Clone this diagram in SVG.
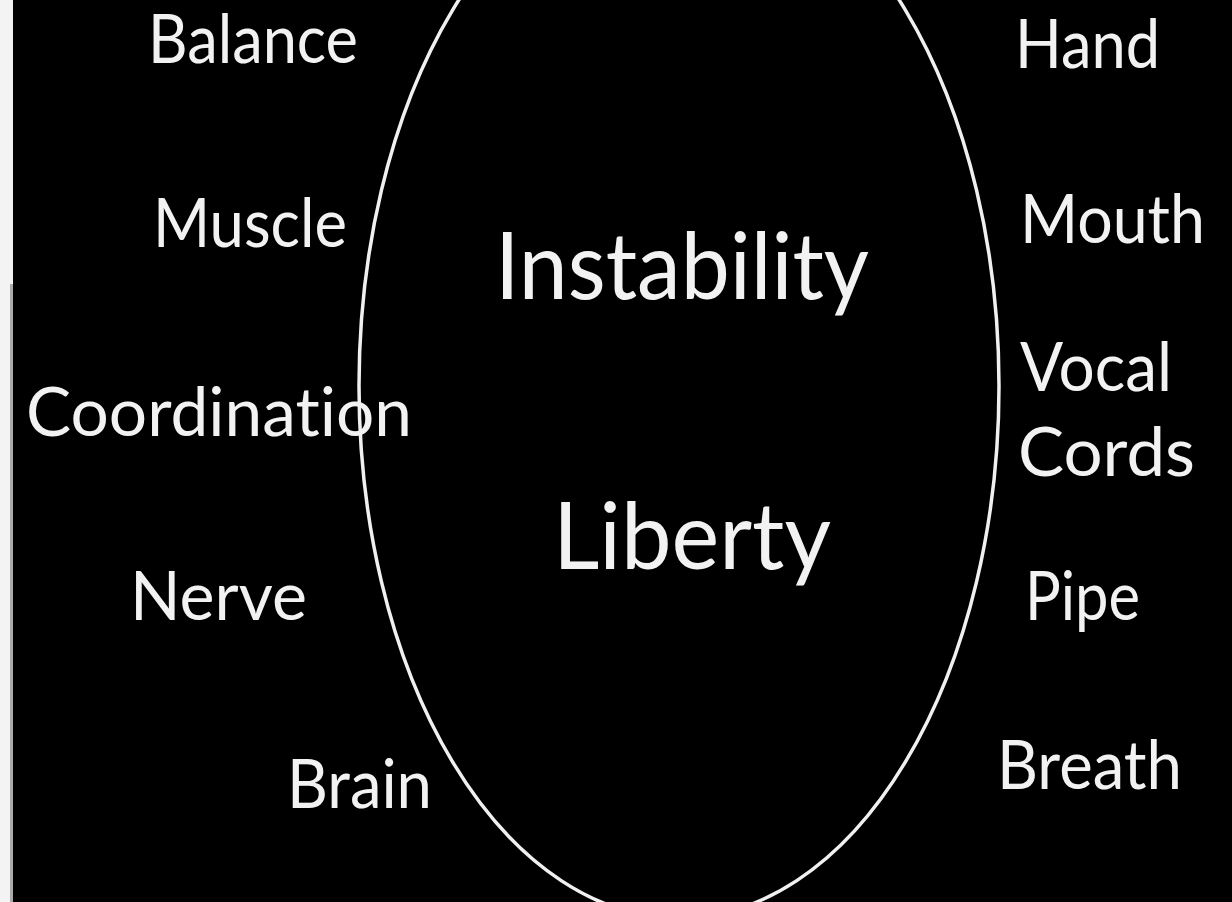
<svg xmlns="http://www.w3.org/2000/svg" width="1232" height="902" viewBox="0 0 1232 902">
<style>
.lbl{font-family:Lato,"Open Sans","Liberation Sans",sans-serif;fill:#f2f2f2;font-size:68px;font-variant-ligatures:none;font-feature-settings:"liga" 0}
.big{font-size:93px}
</style>
<rect x="0" y="0" width="1232" height="902" fill="#f3f3f3"/>
<rect x="10" y="284" width="3" height="618" fill="#aaaaaa"/>
<rect x="13" y="0" width="1219" height="902" fill="#000000"/>
<g id="ellipse">
<ellipse cx="679" cy="386" rx="320" ry="532" fill="none" stroke="#f0f0f0" stroke-width="3.5"/>
</g>
<g id="center">
<text class="lbl big" x="495" y="299" textLength="374" lengthAdjust="spacingAndGlyphs">Instability</text>
<text class="lbl big" x="553" y="569" textLength="278" lengthAdjust="spacingAndGlyphs">Liberty</text>
</g>
<g id="left">
<text id="balance" class="lbl" x="148" y="63" textLength="210" lengthAdjust="spacingAndGlyphs">Balance</text>
<text id="muscle" class="lbl" x="153" y="247" textLength="194" lengthAdjust="spacingAndGlyphs">Muscle</text>
<text id="coordination" class="lbl" x="26" y="436" textLength="386" lengthAdjust="spacingAndGlyphs">Coordination</text>
<text id="nerve" class="lbl" x="130" y="620" textLength="177" lengthAdjust="spacingAndGlyphs">Nerve</text>
<text id="brain" class="lbl" x="287" y="808" textLength="145" lengthAdjust="spacingAndGlyphs">Brain</text>
</g>
<g id="right">
<text id="hand" class="lbl" x="1015" y="68" textLength="145" lengthAdjust="spacingAndGlyphs">Hand</text>
<text id="mouth" class="lbl" x="1020" y="243" textLength="185" lengthAdjust="spacingAndGlyphs">Mouth</text>
<text id="vocal" class="lbl" x="1020" y="391" textLength="152" lengthAdjust="spacingAndGlyphs">Vocal</text>
<text id="cords" class="lbl" x="1018" y="476" textLength="177" lengthAdjust="spacingAndGlyphs">Cords</text>
<text id="pipe" class="lbl" x="1025" y="620" textLength="115" lengthAdjust="spacingAndGlyphs">Pipe</text>
<text id="breath" class="lbl" x="997" y="789" textLength="185" lengthAdjust="spacingAndGlyphs">Breath</text>
</g>
</svg>
